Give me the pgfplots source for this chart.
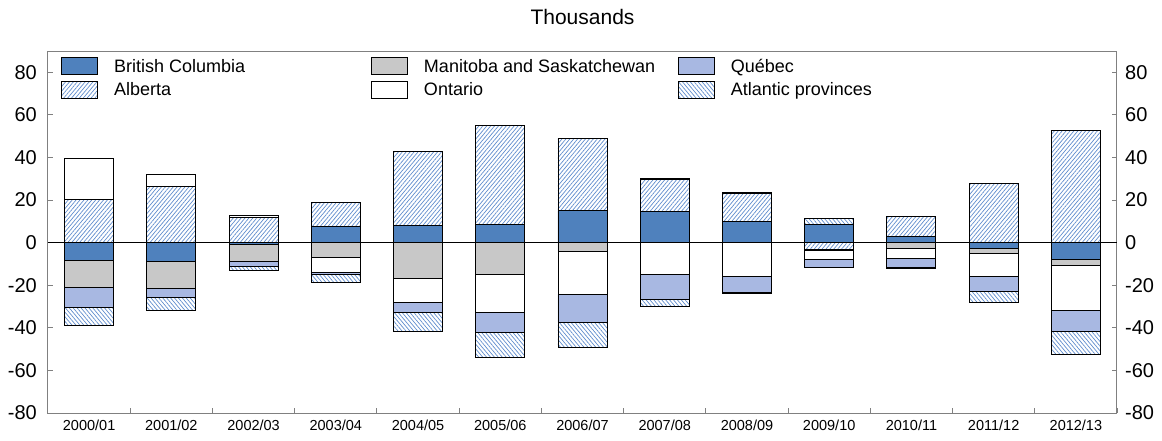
\documentclass[border=0pt]{standalone}
\usepackage{pgfplots}
\pgfplotsset{compat=1.18}
\usepackage{pgfplotstable}
\usetikzlibrary{patterns.meta}
\usepackage{fontspec}
\setmainfont{Liberation Sans}

\definecolor{bccol}{RGB}{79,129,189}
\definecolor{qccol}{RGB}{168,184,226}
\definecolor{mscol}{RGB}{200,200,200}
\definecolor{hatchcol}{RGB}{95,140,205}
\definecolor{axiscol}{RGB}{128,128,128}

% net interprovincial migration by region, thousands
\pgfplotstableread{
x  BC     AB     MS     ON     QC     AT
0  -8.3   20.3  -12.8   19.1   -9.4   -8.2
1  -8.8   26.3  -12.8    5.6   -4.2   -6.0
2  -1.0   12.0   -7.9    0.6   -2.1   -1.9
3   7.8   11.0   -7.0   -7.1   -0.8   -3.6
4   8.1   34.6  -16.8  -11.4   -4.7   -9.0
5   8.6   46.3  -15.0  -17.6   -9.4  -11.8
6  15.0   33.8   -3.9  -20.4  -13.0  -11.7
7  14.7   15.0    0.5  -15.0  -11.6   -3.4
8   9.8   13.3    0.5  -15.7   -7.8   -0.2
9   8.6   -3.1   -0.4   -4.3   -3.9    2.8
10  2.9    9.2   -2.8   -4.5   -4.5   -0.4
11 -2.8   27.6   -2.4  -10.9   -6.9   -4.9
12 -8.0   52.6   -2.8  -21.0   -9.7  -11.2
}\migr

\tikzset{
  bcS/.style={fill=bccol, draw=black, line width=0.9pt},
  abS/.style={pattern={Lines[angle=50,distance=3pt,line width=0.7pt]}, pattern color=hatchcol, draw=black, line width=0.9pt},
  msS/.style={fill=mscol, draw=black, line width=0.9pt},
  onS/.style={fill=white, draw=black, line width=0.9pt},
  qcS/.style={fill=qccol, draw=black, line width=0.9pt},
  atS/.style={pattern={Lines[angle=-50,distance=3pt,line width=0.7pt]}, pattern color=hatchcol, draw=black, line width=0.9pt},
}
\pgfplotsset{
  legsym/.style={legend image code/.code={\draw[##1] (0pt,-8.5pt) rectangle (36pt,8.5pt);}},
  common/.style={
    scale only axis,
    width=1069pt, height=362pt,
    xmin=-0.5, xmax=12.5,
    ymin=-80, ymax=90,
    ytick={-80,-60,...,80},
    yticklabels={-80,-60,-40,-20,0,20,40,60,80},
    ybar stacked, stacked ignores zero,
    bar width=49pt,
  },
}

\begin{document}
\begin{tikzpicture}
\path[use as bounding box] (-48pt,-27pt) rectangle (1114pt,413pt);
% positive parts, left axis, legend
\begin{axis}[
  common,
  ytick pos=both,
  xtick={0.5,1.5,...,12.5},
  xticklabels={2000/01,2001/02,2002/03,2003/04,2004/05,2005/06,2006/07,2007/08,2008/09,2009/10,2010/11,2011/12,2012/13},
  xtick pos=bottom,
  tick align=inside,
  major tick length=5pt,
  tick style={draw=axiscol, line width=0.9pt},
  axis line style={draw=axiscol, line width=1pt},
  xticklabel style={font=\fontsize{14.5}{16}\selectfont, inner sep=0pt, xshift=-41.1pt, yshift=-7pt},
  yticklabel style={font=\fontsize{20}{22}\selectfont, inner sep=0pt, xshift=-11pt},
  title={Thousands},
  title style={font=\fontsize{21}{24}\selectfont, at={(0.5,1)}, anchor=center, yshift=28pt},
  legend columns=3,
  legend style={at={(rel axis cs:0,1)}, anchor=north west, xshift=13pt, yshift=-6pt,
    draw=none, fill=none, inner sep=0pt, row sep=5.5pt, column sep=16pt,
    font=\fontsize{18}{20}\selectfont,
    nodes={inner sep=0pt, text height=12.5pt, text depth=0pt}},
  legend cell align=left,
  legsym,
]
\addlegendimage{legsym, bcS}
\addlegendentry{\makebox[241pt][l]{British Columbia}}
\addlegendimage{legsym, msS}
\addlegendentry{\makebox[238pt][l]{Manitoba and Saskatchewan}}
\addlegendimage{legsym, qcS}
\addlegendentry{Québec}
\addlegendimage{legsym, abS}
\addlegendentry{\makebox[241pt][l]{Alberta}}
\addlegendimage{legsym, onS}
\addlegendentry{\makebox[238pt][l]{Ontario}}
\addlegendimage{legsym, atS}
\addlegendentry{Atlantic provinces}

\addplot[bcS, forget plot] table[x=x, y expr={max(\thisrow{BC},0)}] {\migr};
\addplot[abS, forget plot] table[x=x, y expr={max(\thisrow{AB},0)}] {\migr};
\addplot[msS, forget plot] table[x=x, y expr={max(\thisrow{MS},0)}] {\migr};
\addplot[onS, forget plot] table[x=x, y expr={max(\thisrow{ON},0)}] {\migr};
\addplot[qcS, forget plot] table[x=x, y expr={max(\thisrow{QC},0)}] {\migr};
\addplot[atS, forget plot] table[x=x, y expr={max(\thisrow{AT},0)}] {\migr};
\end{axis}
% negative parts, right axis labels
\begin{axis}[
  common,
  hide x axis,
  axis y line*=right,
  y axis line style={draw=none},
  major tick length=0pt,
  yticklabel style={font=\fontsize{20}{22}\selectfont, inner sep=0pt, xshift=8pt},
]
\addplot[bcS] table[x=x, y expr={min(\thisrow{BC},0)}] {\migr};
\addplot[abS] table[x=x, y expr={min(\thisrow{AB},0)}] {\migr};
\addplot[msS] table[x=x, y expr={min(\thisrow{MS},0)}] {\migr};
\addplot[onS] table[x=x, y expr={min(\thisrow{ON},0)}] {\migr};
\addplot[qcS] table[x=x, y expr={min(\thisrow{QC},0)}] {\migr};
\addplot[atS] table[x=x, y expr={min(\thisrow{AT},0)}] {\migr};
\draw[black, line width=1pt] (axis cs:-0.5,0) -- (axis cs:12.5,0);
\end{axis}
\end{tikzpicture}
\end{document}
